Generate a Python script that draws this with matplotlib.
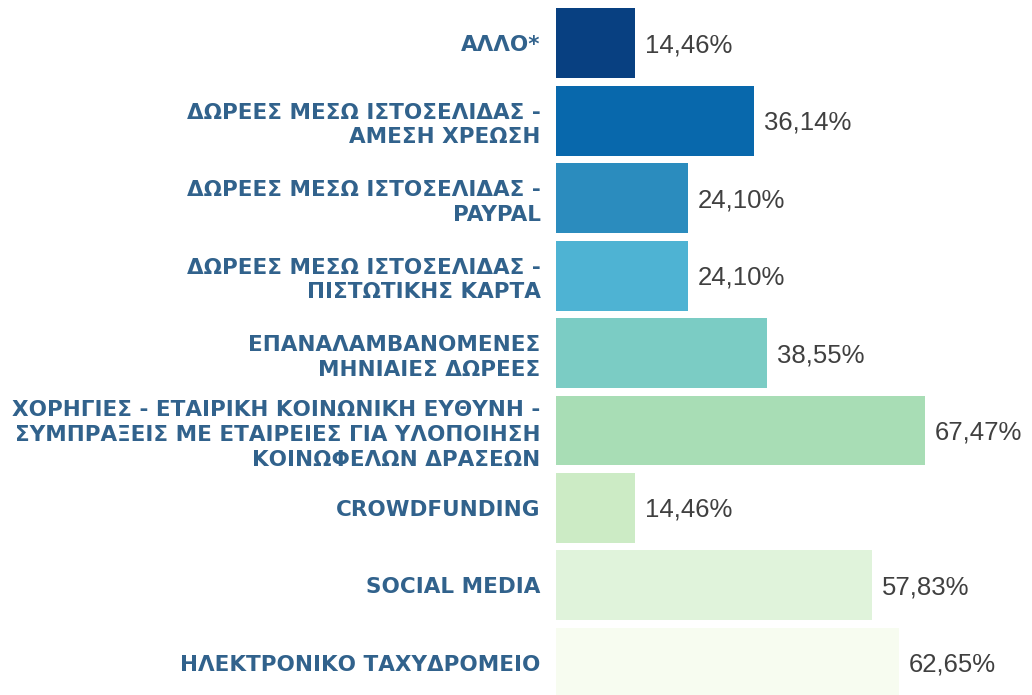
import matplotlib
matplotlib.use("Agg")
import matplotlib.pyplot as plt

categories = [
    "ΑΛΛΟ*",
    "ΔΩΡΕΕΣ ΜΕΣΩ ΙΣΤΟΣΕΛΙΔΑΣ -\nΑΜΕΣΗ ΧΡΕΩΣΗ",
    "ΔΩΡΕΕΣ ΜΕΣΩ ΙΣΤΟΣΕΛΙΔΑΣ -\nPAYPAL",
    "ΔΩΡΕΕΣ ΜΕΣΩ ΙΣΤΟΣΕΛΙΔΑΣ -\nΠΙΣΤΩΤΙΚΗΣ ΚΑΡΤΑ",
    "ΕΠΑΝΑΛΑΜΒΑΝΟΜΕΝΕΣ\nΜΗΝΙΑΙΕΣ ΔΩΡΕΕΣ",
    "ΧΟΡΗΓΙΕΣ - ΕΤΑΙΡΙΚΗ ΚΟΙΝΩΝΙΚΗ ΕΥΘΥΝΗ -\nΣΥΜΠΡΑΞΕΙΣ ΜΕ ΕΤΑΙΡΕΙΕΣ ΓΙΑ ΥΛΟΠΟΙΗΣΗ\nΚΟΙΝΩΦΕΛΩΝ ΔΡΑΣΕΩΝ",
    "CROWDFUNDING",
    "SOCIAL MEDIA",
    "ΗΛΕΚΤΡΟΝΙΚΟ ΤΑΧΥΔΡΟΜΕΙΟ",
]
values = [14.46, 36.14, 24.10, 24.10, 38.55, 67.47, 14.46, 57.83, 62.65]
colors = ["#084081", "#0868ac", "#2b8cbe", "#4eb3d3", "#7bccc4",
          "#a8ddb5", "#ccebc5", "#e0f3db", "#f7fcf0"]

fig = plt.figure(figsize=(10.32, 6.95), dpi=100)
ax = fig.add_axes([556 / 1032, 0, 1 - 556 / 1032, 1])

pos = list(range(len(values)))
ax.barh(pos, values, height=70 / 77.5, color=colors)
ax.set_xlim(0, 476 / 5.47)
ax.set_ylim(8.413, -0.555)

for p, v in zip(pos, values):
    ax.annotate(f"{v:.2f}%".replace(".", ","), (v, p), xytext=(10, -2),
                textcoords="offset pixels", va="center", ha="left",
                fontsize=18.5, color="#404040", family="Liberation Sans")

ax.set_yticks(pos)
ax.set_yticklabels(categories, fontsize=15.5, fontweight="bold",
                   color="#31628c", family="DejaVu Sans", linespacing=1.3)
ax.tick_params(axis="y", length=0, pad=11)
ax.set_xticks([])
for s in ax.spines.values():
    s.set_visible(False)

fig.savefig("out.png", dpi=100)
